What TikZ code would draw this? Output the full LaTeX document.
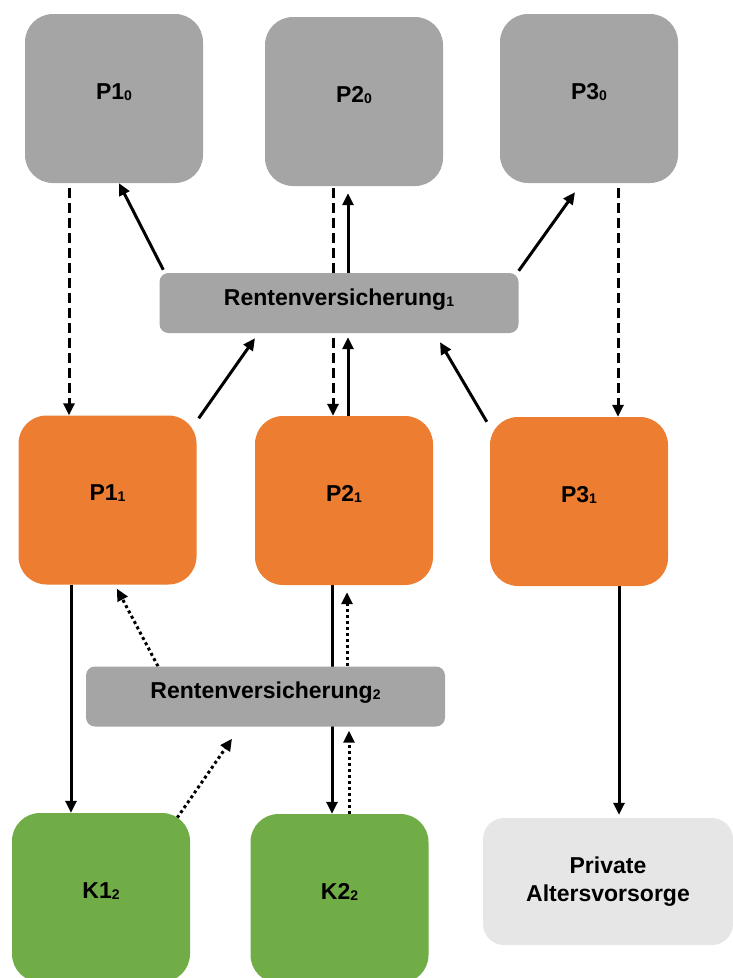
\documentclass[tikz,border=0pt]{standalone}
\usepackage{fontspec}
\setmainfont{Liberation Sans}
\usetikzlibrary{arrows.meta,backgrounds}
\definecolor{boxgrey}{HTML}{A5A5A5}
\definecolor{boxorange}{HTML}{ED7D31}
\definecolor{boxgreen}{HTML}{70AD47}
\definecolor{boxlight}{HTML}{E7E6E6}
\newcommand{\tsub}[1]{\raisebox{-1pt}{\fontsize{14}{14}\selectfont #1}}

\begin{document}
\begin{tikzpicture}[x=1pt,y=-1pt,
    font=\fontsize{23}{28}\selectfont\bfseries,
    bigbox/.style={rounded corners=28pt,minimum width=178pt,minimum height=169pt,
      inner sep=0pt,text height=16.5pt,text depth=15.5pt},
    rvbox/.style={fill=boxgrey,rounded corners=9pt,minimum width=359pt,minimum height=60pt,
      inner sep=0pt,text height=16.5pt,text depth=12.5pt},
    conn/.style={line width=3pt,-{Triangle[length=12pt,width=11pt]}},
    dashconn/.style={conn,dash pattern=on 10pt off 5pt},
    dotconn/.style={conn,dash pattern=on 3pt off 3pt}]
    \useasboundingbox (0,0) rectangle (733,978);

    \node[bigbox,fill=boxgrey] (p10) at (114,98.5) {P1\tsub{0}};
    \node[bigbox,fill=boxgrey] (p20) at (354,101.5) {P2\tsub{0}};
    \node[bigbox,fill=boxgrey] (p30) at (589,98.5) {P3\tsub{0}};
    \node[rvbox] (rv1) at (339,303) {Rentenversicherung\tsub{1}};
    \node[bigbox,fill=boxorange] (p11) at (107.5,500) {P1\tsub{1}};
    \node[bigbox,fill=boxorange] (p21) at (344,500.5) {P2\tsub{1}};
    \node[bigbox,fill=boxorange] (p31) at (579,501.5) {P3\tsub{1}};
    \node[rvbox] (rv2) at (265.5,696.5) {Rentenversicherung\tsub{2}};
    \node[bigbox,fill=boxgreen] (k12) at (101,897.5) {K1\tsub{2}};
    \node[bigbox,fill=boxgreen] (k22) at (339.5,898.5) {K2\tsub{2}};
    \node[fill=boxlight,rounded corners=21pt,minimum width=250pt,minimum height=127pt,
      inner sep=0pt,align=center] (priv) at (608,881.5) {Private\\Altersvorsorge};

    \begin{scope}[on background layer]
      \draw[dashconn] ([xshift=-45pt,yshift=-5pt]p10.south) -- ([xshift=-38.5pt]p11.north);
      \draw[conn] ([xshift=4pt,yshift=3pt]rv1.north west) -- ([xshift=5pt]p10.south);
      \draw[dashconn] ([xshift=-21pt,yshift=-2pt]p20.south) -- ([xshift=-11pt]p21.north);
      \draw[conn] ([xshift=9pt]rv1.north) -- ([xshift=-6pt,yshift=-7pt]p20.south);
      \draw[conn] ([yshift=2pt]rv1.north east) -- ([xshift=-14pt,yshift=-9pt]p30.south);
      \draw[dashconn] ([xshift=29pt,yshift=-5pt]p30.south) -- ([xshift=39pt]p31.north);
      \draw[conn] ([xshift=2pt,yshift=-3pt]p11.north east) -- ([xshift=-84pt,yshift=-5pt]rv1.south);
      \draw[conn] ([xshift=4pt]p21.north) -- ([xshift=9pt,yshift=-4pt]rv1.south);
      \draw[conn] ([xshift=-3pt,yshift=-5pt]p31.north west) -- ([xshift=101pt,yshift=-9pt]rv1.south);
      \draw[conn] ([xshift=-36.5pt]p11.south) -- ([xshift=-30pt]k12.north);
      \draw[dotconn] ([xshift=-107.5pt]rv2.north) -- ([xshift=9.5pt,yshift=-4pt]p11.south);
      \draw[dotconn] ([xshift=-13pt,yshift=-5pt]k12.north east) -- ([xshift=-33.5pt,yshift=-12pt]rv2.south);
      \draw[conn] ([xshift=-12pt]p21.south) -- ([xshift=-7.5pt]k22.north);
      \draw[dotconn] ([xshift=81.5pt]rv2.north) -- ([xshift=3pt,yshift=-7pt]p21.south);
      \draw[dotconn] ([xshift=9.5pt]k22.north) -- ([xshift=83.5pt,yshift=-4pt]rv2.south);
      \draw[conn] ([xshift=40pt]p31.south) -- ([xshift=11pt,yshift=3pt]priv.north);
    \end{scope}
  \end{tikzpicture}
\end{document}
